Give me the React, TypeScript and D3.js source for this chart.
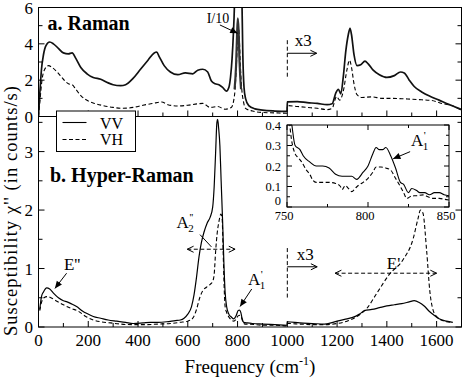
import React from 'react';
import * as d3 from 'd3';

type P = [number, number];

// a. Raman (top panel), frequency in cm-1, value in counts/s (x3 above 1000)
const ramanVV: P[] = [
  [0, 0], [5, 1.2], [12, 2.6], [20, 3.4], [30, 3.9], [45, 4.1], [60, 4.0], [80, 3.75], [100, 3.5],
  [120, 3.45], [135, 3.5], [150, 3.2], [170, 2.7], [195, 2.35], [220, 2.15], [250, 2.05], [280, 1.85],
  [300, 1.75], [330, 1.7], [350, 1.75], [380, 2.1], [410, 2.6], [440, 3.1], [465, 3.5], [475, 3.55],
  [485, 3.3], [505, 2.8], [530, 2.45], [560, 2.3], [590, 2.4], [620, 2.35], [640, 2.55], [660, 2.6],
  [680, 2.45], [695, 1.95], [710, 1.8], [725, 1.75], [740, 1.6], [755, 1.4], [765, 1.6], [772, 2.2],
  [778, 3.2], [783, 4.5], [788, 6.5], [795, 15], [803, 30], [812, 12], [817, 7], [821, 3.5],
  [826, 1.6], [832, 1.0], [845, 0.6], [870, 0.42], [900, 0.35], [950, 0.3], [999, 0.28],
  [1000, 0.8], [1040, 0.82], [1080, 0.76], [1120, 0.72], [1160, 0.65], [1180, 0.7], [1195, 1.3],
  [1205, 1.5], [1215, 1.25], [1225, 2.2], [1235, 3.6], [1245, 4.5], [1252, 4.85], [1258, 4.5],
  [1268, 3.4], [1280, 2.8], [1295, 2.85], [1312, 3.05], [1325, 2.9], [1345, 2.55], [1370, 2.3],
  [1400, 2.15], [1430, 2.25], [1455, 2.45], [1470, 2.4], [1490, 2.0], [1510, 1.65], [1540, 1.35],
  [1575, 1.1], [1610, 0.9], [1640, 0.72], [1670, 0.55], [1700, 0.38],
];
const ramanVH: P[] = [
  [0, 0], [6, 0.9], [14, 2.0], [25, 2.6], [40, 2.8], [55, 2.7], [75, 2.45], [100, 2.05], [120, 1.8],
  [135, 1.75], [150, 1.5], [170, 1.15], [200, 0.85], [230, 0.7], [260, 0.6], [300, 0.5], [340, 0.45],
  [380, 0.5], [420, 0.62], [460, 0.72], [495, 0.8], [520, 0.65], [560, 0.58], [600, 0.62], [640, 0.7],
  [660, 0.72], [690, 0.5], [720, 0.55], [750, 0.4], [775, 0.5], [788, 1.2], [795, 2.7], [800, 4.2],
  [804, 4.9], [808, 4.0], [812, 2.6], [817, 1.5], [824, 0.8], [832, 0.45], [860, 0.3], [900, 0.22],
  [950, 0.2], [999, 0.18], [1000, 0.6], [1040, 0.55], [1080, 0.5], [1120, 0.45], [1160, 0.38],
  [1180, 0.45], [1198, 1.1], [1210, 0.9], [1225, 1.4], [1240, 2.6], [1250, 3.1], [1258, 2.7],
  [1268, 1.8], [1280, 1.2], [1300, 1.05], [1340, 1.08], [1380, 1.0], [1420, 1.0], [1460, 0.98],
  [1500, 0.95], [1540, 0.92], [1580, 0.88], [1620, 0.72], [1660, 0.6], [1700, 0.35],
];
// VV divided by 10 around the 800 cm-1 line
const ramanVVdiv10: P[] = [
  [788, 1.5], [794, 2.8], [798, 4.5], [801, 5.4], [804, 4.8], [808, 3.0], [814, 1.5],
];

// b. Hyper-Raman (bottom panel)
const hyperVV: P[] = [
  [5, 0.3], [12, 0.52], [20, 0.6], [33, 0.67], [45, 0.65], [60, 0.58], [80, 0.5], [100, 0.45],
  [115, 0.43], [130, 0.4], [153, 0.35], [175, 0.28], [195, 0.23], [220, 0.18], [250, 0.15],
  [280, 0.12], [315, 0.1], [350, 0.08], [380, 0.06], [420, 0.07], [450, 0.08], [480, 0.08],
  [515, 0.09], [550, 0.11], [570, 0.12], [585, 0.15], [600, 0.22], [615, 0.35], [625, 0.55],
  [635, 0.85], [645, 1.2], [655, 1.45], [665, 1.62], [678, 1.78], [690, 1.88], [700, 2.05],
  [706, 2.4], [712, 3.0], [717, 3.5], [720, 3.55], [724, 3.4], [729, 3.1], [734, 2.5], [740, 1.8],
  [745, 1.1], [750, 0.6], [756, 0.35], [765, 0.22], [775, 0.17], [785, 0.14], [795, 0.2],
  [802, 0.28], [808, 0.29], [813, 0.25], [818, 0.15], [825, 0.08], [840, 0.07], [860, 0.06],
  [900, 0.05], [950, 0.04], [999, 0.03], [1000, 0.09], [1050, 0.07], [1100, 0.06], [1150, 0.05],
  [1200, 0.1], [1230, 0.13], [1260, 0.16], [1290, 0.22], [1310, 0.28], [1340, 0.3], [1370, 0.33],
  [1400, 0.36], [1430, 0.38], [1460, 0.4], [1490, 0.43], [1510, 0.45], [1530, 0.42], [1550, 0.36],
  [1570, 0.27], [1590, 0.2], [1610, 0.14], [1640, 0.1], [1665, 0.08],
];
const hyperVH: P[] = [
  [5, 0.28], [12, 0.42], [22, 0.5], [35, 0.52], [50, 0.5], [70, 0.45], [100, 0.38], [130, 0.32],
  [160, 0.27], [190, 0.18], [220, 0.12], [250, 0.09], [290, 0.07], [330, 0.05], [380, 0.04],
  [430, 0.04], [480, 0.05], [530, 0.06], [570, 0.08], [600, 0.1], [620, 0.15], [635, 0.3],
  [648, 0.5], [660, 0.62], [675, 0.68], [690, 0.73], [700, 0.78], [706, 0.9], [712, 1.3],
  [718, 1.6], [725, 1.8], [733, 1.93], [738, 1.85], [742, 1.3], [746, 0.7], [750, 0.35],
  [756, 0.25], [765, 0.17], [775, 0.12], [785, 0.1], [795, 0.14], [802, 0.19], [810, 0.2],
  [815, 0.17], [822, 0.08], [830, 0.05], [850, 0.05], [900, 0.03], [950, 0.03], [999, 0.02],
  [1000, 0.06], [1050, 0.05], [1100, 0.04], [1150, 0.04], [1200, 0.06], [1240, 0.1], [1280, 0.18],
  [1320, 0.32], [1360, 0.58], [1410, 0.9], [1465, 1.15], [1505, 1.5], [1525, 1.85], [1535, 2.0],
  [1545, 1.95], [1560, 1.3], [1573, 0.6], [1585, 0.3], [1600, 0.18], [1630, 0.1], [1665, 0.08],
];

// inset: zoom on the A'1 line
const insetVV: P[] = [
  [750, 0.6], [753, 0.4], [755, 0.3], [758, 0.28], [760, 0.25], [764, 0.22], [768, 0.2], [772, 0.2],
  [776, 0.19], [780, 0.16], [784, 0.15], [788, 0.15], [790, 0.15], [793, 0.135], [797, 0.17],
  [800, 0.2], [803, 0.26], [805, 0.29], [807, 0.28], [809, 0.28], [811, 0.29], [814, 0.25],
  [817, 0.19], [820, 0.12], [822, 0.11], [825, 0.07], [827, 0.09], [830, 0.08], [832, 0.07],
  [835, 0.07], [838, 0.06], [841, 0.07], [844, 0.07], [847, 0.06], [850, 0.055],
];
const insetVH: P[] = [
  [750, 0.7], [752, 0.38], [755, 0.26], [757, 0.24], [759, 0.22], [762, 0.18], [764, 0.16],
  [766, 0.13], [768, 0.12], [772, 0.12], [776, 0.12], [780, 0.115], [783, 0.1], [784, 0.085],
  [786, 0.105], [788, 0.09], [790, 0.075], [792, 0.09], [794, 0.105], [797, 0.12], [800, 0.14],
  [803, 0.17], [805, 0.195], [808, 0.195], [811, 0.19], [814, 0.18], [817, 0.14], [820, 0.1],
  [822, 0.07], [824, 0.042], [827, 0.054], [830, 0.055], [834, 0.059], [837, 0.05], [840, 0.042],
  [844, 0.042], [847, 0.038], [850, 0.034],
];

const xTicks = d3.range(0, 1701, 100);
const xTickLabels = [0, 200, 400, 600, 800, 1000, 1200, 1400, 1600];
const topYTicks = d3.range(0, 6.01, 1);
const topYLabels = [0, 2, 4, 6];
const botYTicks = d3.range(0, 3.51, 0.5);
const botYLabels = [0, 1, 2, 3];
const inXTicks = d3.range(750, 851, 25);
const inXLabels = [750, 800, 850];
const inYTicks = d3.range(0, 0.401, 0.05);
const inYLabels = [0, 0.1, 0.2, 0.3, 0.4];

const FONT = "'Liberation Serif', 'Times New Roman', Times, serif";
const DASH = '4,2.5';

function arrowHead(x1: number, y1: number, x2: number, y2: number, filled: boolean, key: string) {
  const a = Math.atan2(y2 - y1, x2 - x1);
  const L = filled ? 8 : 7;
  const w = filled ? 0.42 : 0.45;
  const p1: P = [x2 - L * Math.cos(a - w), y2 - L * Math.sin(a - w)];
  const p2: P = [x2 - L * Math.cos(a + w), y2 - L * Math.sin(a + w)];
  if (filled) {
    return <polygon key={key} points={`${x2},${y2} ${p1[0]},${p1[1]} ${p2[0]},${p2[1]}`} fill="#000" />;
  }
  return <polyline key={key} points={`${p1[0]},${p1[1]} ${x2},${y2} ${p2[0]},${p2[1]}`} fill="none" stroke="#000" strokeWidth={1} />;
}

function Arrow({ x1, y1, x2, y2, filled = true, dashed = false, both = false }:
  { x1: number; y1: number; x2: number; y2: number; filled?: boolean; dashed?: boolean; both?: boolean }) {
  return (
    <g>
      <line x1={x1} y1={y1} x2={x2} y2={y2} stroke="#000" strokeWidth={1} strokeDasharray={dashed ? DASH : undefined} />
      {arrowHead(x1, y1, x2, y2, filled, 'h1')}
      {both ? arrowHead(x2, y2, x1, y1, filled, 'h2') : null}
    </g>
  );
}

// Label like A'1 / A''2 : main letter, prime above, index below
function Mode({ x, y, main, prime, sub }: { x: number; y: number; main: string; prime: string; sub: string }) {
  return (
    <text x={x} y={y} fontSize={17}>
      {main}
      <tspan fontSize={11} dx={0.5} dy={-7}>{prime}</tspan>
      <tspan fontSize={11} dx={prime.length > 1 ? -5 : -3} dy={11}>{sub}</tspan>
    </text>
  );
}

export default function App() {
  const x = d3.scaleLinear().domain([0, 1700]).range([38.5, 461.5]);
  const yTop = d3.scaleLinear().domain([0, 6]).range([116.5, 7.5]);
  const yBot = d3.scaleLinear().domain([0, 3.6]).range([327, 116.5]);
  const xIn = d3.scaleLinear().domain([750, 850]).range([287, 449]);
  const yIn = d3.scaleLinear().domain([0, 0.4]).range([207, 125]);

  const curve = d3.curveMonotoneX;
  const lineTop = d3.line<P>().x(d => x(d[0])).y(d => yTop(d[1])).curve(curve);
  const lineBot = d3.line<P>().x(d => x(d[0])).y(d => yBot(d[1])).curve(curve);
  const lineIn = d3.line<P>().x(d => xIn(d[0])).y(d => yIn(d[1])).curve(curve);

  const L = x(0), R = x(1700);
  const isMajorX = (v: number) => v % 200 === 0;

  return (
    <svg width={463} height={378} style={{ position: 'absolute', left: 0, top: 0, background: '#fff', fontFamily: FONT }}>
      <defs>
        <clipPath id="clipTop"><rect x={L} y={yTop(6)} width={R - L} height={yTop(0) - yTop(6)} /></clipPath>
        <clipPath id="clipBot"><rect x={L} y={yBot(3.6)} width={R - L} height={yBot(0) - yBot(3.6)} /></clipPath>
        <clipPath id="clipIn"><rect x={xIn(750)} y={yIn(0.4)} width={xIn(850) - xIn(750)} height={yIn(0) - yIn(0.4)} /></clipPath>
      </defs>

      {/* data: top panel */}
      <g clipPath="url(#clipTop)">
        <path d={lineTop(ramanVH) || ''} fill="none" stroke="#000" strokeWidth={1.1} strokeDasharray={DASH} />
        <path d={lineTop(ramanVV) || ''} fill="none" stroke="#111" strokeWidth={1.7} />
        <path d={lineTop(ramanVVdiv10) || ''} fill="none" stroke="#333" strokeWidth={2.2} />
      </g>
      {/* data: bottom panel */}
      <g clipPath="url(#clipBot)">
        <path d={lineBot(hyperVH) || ''} fill="none" stroke="#000" strokeWidth={1.1} strokeDasharray={DASH} />
        <path d={lineBot(hyperVV) || ''} fill="none" stroke="#000" strokeWidth={1.2} />
      </g>

      {/* frames */}
      <rect x={L} y={yTop(6)} width={R - L} height={yTop(0) - yTop(6)} fill="none" stroke="#000" strokeWidth={1} />
      <rect x={L} y={yBot(3.6)} width={R - L} height={yBot(0) - yBot(3.6)} fill="none" stroke="#000" strokeWidth={1} />

      {/* x ticks */}
      {xTicks.map(v => (
        <g key={'xt' + v}>
          <line x1={x(v)} x2={x(v)} y1={yBot(0)} y2={yBot(0) - (isMajorX(v) ? 6 : 4)} stroke="#000" />
          <line x1={x(v)} x2={x(v)} y1={yTop(0)} y2={yTop(0) - (isMajorX(v) ? 6 : 4)} stroke="#000" />
        </g>
      ))}
      {xTickLabels.map(v => (
        <text key={'xl' + v} x={x(v)} y={346} textAnchor="middle" fontSize={17}>{v}</text>
      ))}
      {/* y ticks top */}
      {topYTicks.map(v => {
        const len = v % 2 === 0 ? 6 : 4;
        return (
          <g key={'ty' + v}>
            <line x1={L} x2={L + len} y1={yTop(v)} y2={yTop(v)} stroke="#000" />
            <line x1={R} x2={R - len} y1={yTop(v)} y2={yTop(v)} stroke="#000" />
          </g>
        );
      })}
      {topYLabels.map(v => (
        <text key={'tyl' + v} x={33} y={yTop(v) + 6} textAnchor="end" fontSize={17}>{v}</text>
      ))}
      {/* y ticks bottom */}
      {botYTicks.map(v => {
        const len = Number.isInteger(v) ? 6 : 4;
        return (
          <g key={'by' + v}>
            <line x1={L} x2={L + len} y1={yBot(v)} y2={yBot(v)} stroke="#000" />
            <line x1={R} x2={R - len} y1={yBot(v)} y2={yBot(v)} stroke="#000" />
          </g>
        );
      })}
      {botYLabels.map(v => (
        <text key={'byl' + v} x={33} y={yBot(v) + 6} textAnchor="end" fontSize={17}>{v}</text>
      ))}

      {/* axis titles */}
      <text transform={`translate(16.5,211) rotate(-90)`} textAnchor="middle" fontSize={18.5}
        textLength={250} lengthAdjust="spacing">Susceptibility χ'' (in counts/s)</text>
      <text x={250} y={373} textAnchor="middle" fontSize={19}>
        Frequency (cm<tspan dy={-8} fontSize={12}>-1</tspan><tspan dy={8}>)</tspan>
      </text>

      {/* panel titles */}
      <text x={47.5} y={30} fontSize={20} fontWeight="bold">a. Raman</text>
      <text x={50} y={182} fontSize={20} fontWeight="bold">b. Hyper-Raman</text>

      {/* top panel annotations */}
      <text x={x(676)} y={yTop(5.13)} fontSize={14}>I/10</text>
      <Arrow x1={x(729)} y1={yTop(5.04)} x2={x(800)} y2={yTop(4.58)} />
      <line x1={x(1000)} x2={x(1000)} y1={yTop(4.2)} y2={yTop(2.15)} stroke="#000" strokeDasharray={DASH} />
      <text x={x(1030)} y={yTop(3.9)} fontSize={17}>x3</text>
      <Arrow x1={x(1000)} y1={yTop(3.48)} x2={x(1118)} y2={yTop(3.48)} filled={false} />

      {/* bottom panel annotations */}
      <text x={x(102)} y={yBot(0.97)} fontSize={17}>E''</text>
      <Arrow x1={x(113)} y1={yBot(0.92)} x2={x(66)} y2={yBot(0.66)} />

      <Mode x={x(555)} y={yBot(1.7)} main="A" prime="''" sub="2" />
      <line x1={x(649)} y1={yBot(1.58)} x2={x(695)} y2={yBot(1.37)} stroke="#000" />
      <Arrow x1={x(598)} y1={yBot(1.33)} x2={x(790)} y2={yBot(1.33)} filled={false} dashed both />

      <Mode x={x(842)} y={yBot(0.72)} main="A" prime="'" sub="1" />
      <Arrow x1={x(857)} y1={yBot(0.65)} x2={x(810)} y2={yBot(0.35)} />

      <line x1={x(1000)} x2={x(1000)} y1={yBot(1.35)} y2={yBot(0.5)} stroke="#000" strokeDasharray={DASH} />
      <text x={x(1038)} y={yBot(1.15)} fontSize={17}>x3</text>
      <Arrow x1={x(1000)} y1={yBot(1.03)} x2={x(1120)} y2={yBot(1.03)} filled={false} />

      <text x={x(1400)} y={yBot(1.0)} fontSize={17}>E'</text>
      <Arrow x1={x(1192)} y1={yBot(0.92)} x2={x(1600)} y2={yBot(0.92)} filled={false} dashed both />

      {/* legend */}
      <rect x={56.5} y={111} width={79} height={40.5} fill="#fff" stroke="#000" strokeWidth={1} />
      <line x1={62.5} x2={86.5} y1={122.5} y2={122.5} stroke="#000" strokeWidth={1.1} />
      <line x1={62.5} x2={86.5} y1={139.5} y2={139.5} stroke="#000" strokeWidth={1.1} strokeDasharray={DASH} />
      <text x={100} y={128.5} fontSize={16}>VV</text>
      <text x={100} y={144.5} fontSize={16}>VH</text>

      {/* inset */}
      <rect x={xIn(750)} y={yIn(0.4)} width={xIn(850) - xIn(750)} height={yIn(0) - yIn(0.4)} fill="#fff" />
      <g clipPath="url(#clipIn)">
        <path d={lineIn(insetVH) || ''} fill="none" stroke="#000" strokeWidth={1.1} strokeDasharray={DASH} />
        <path d={lineIn(insetVV) || ''} fill="none" stroke="#000" strokeWidth={1.1} />
      </g>
      <rect x={xIn(750)} y={yIn(0.4)} width={xIn(850) - xIn(750)} height={yIn(0) - yIn(0.4)} fill="none" stroke="#000" strokeWidth={1} />
      {inXTicks.map(v => {
        const len = v % 50 === 0 ? 5 : 3;
        return (
          <g key={'ixt' + v}>
            <line x1={xIn(v)} x2={xIn(v)} y1={yIn(0)} y2={yIn(0) - len} stroke="#000" />
            <line x1={xIn(v)} x2={xIn(v)} y1={yIn(0.4)} y2={yIn(0.4) + len} stroke="#000" />
          </g>
        );
      })}
      {inXLabels.map(v => (
        <text key={'ixl' + v} x={xIn(v) - 3} y={219.5} textAnchor="middle" fontSize={12.5}>{v}</text>
      ))}
      {inYTicks.map((v, i) => {
        const len = i % 2 === 0 ? 5 : 3;
        return (
          <g key={'iyt' + i}>
            <line x1={xIn(750)} x2={xIn(750) + len} y1={yIn(v)} y2={yIn(v)} stroke="#000" />
            <line x1={xIn(850)} x2={xIn(850) - len} y1={yIn(v)} y2={yIn(v)} stroke="#000" />
          </g>
        );
      })}
      {inYLabels.map(v => (
        <text key={'iyl' + v} x={281} y={yIn(v) + (v === 0 ? -2 : 4.5)} textAnchor="end" fontSize={12.5}>{v}</text>
      ))}
      <Mode x={xIn(826.5)} y={yIn(0.3)} main="A" prime="'" sub="1" />
      <Arrow x1={xIn(826)} y1={yIn(0.27)} x2={xIn(815.5)} y2={yIn(0.235)} />
    </svg>
  );
}
